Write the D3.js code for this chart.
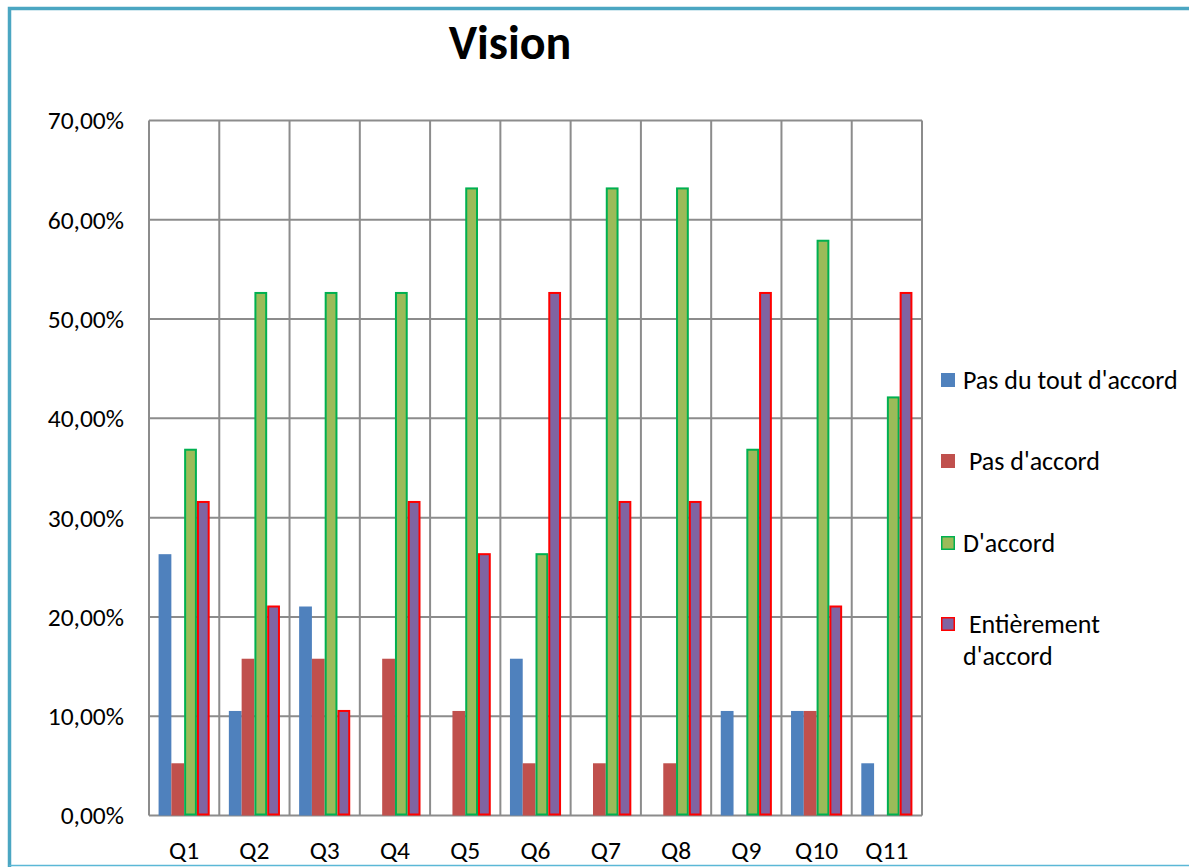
<!DOCTYPE html>
<html>
<head>
<meta charset="utf-8">
<script src="https://cdn.jsdelivr.net/npm/d3@7"></script>
<style>
  html, body { margin: 0; padding: 0; background: #fff; }
  svg { display: block; font-family: Carlito, Calibri, Lato, "Open Sans", sans-serif; }
</style>
</head>
<body>
<svg id="chart" width="1189" height="867"></svg>
<script>
// Survey answers per question (share of respondents)
const categories = ["Q1", "Q2", "Q3", "Q4", "Q5", "Q6", "Q7", "Q8", "Q9", "Q10", "Q11"];
const seriesNames = ["Pas du tout d'accord", " Pas d'accord", "D'accord", " Entièrement d'accord"];
const pasDuTout   = [26.32, 10.53, 21.05, 0, 0, 15.79, 0, 0, 10.53, 10.53, 5.26];
const pasDAccord  = [5.26, 15.79, 15.79, 15.79, 10.53, 5.26, 5.26, 5.26, 0, 10.53, 0];
const dAccord     = [36.84, 52.63, 52.63, 52.63, 63.16, 26.32, 63.16, 63.16, 36.84, 57.89, 42.11];
const entierement = [31.58, 21.05, 10.53, 31.58, 26.32, 52.63, 31.58, 31.58, 52.63, 21.05, 52.63];
const yTicks = [0, 10, 20, 30, 40, 50, 60, 70];

const seriesValues = [pasDuTout, pasDAccord, dAccord, entierement];
const fills   = ["#4F81BD", "#C0504D", "#9BBB59", "#8064A2"];
const strokes = [null, null, "#00B050", "#FF0000"];

const svg = d3.select("#chart");

// outer frame
svg.append("path")
  .attr("d", "M9.5,870 L9.5,8.5 L1195,8.5")
  .attr("fill", "none").attr("stroke", "#4BA6C2").attr("stroke-width", 3.5);
svg.append("line")
  .attr("x1", 9).attr("x2", 1189).attr("y1", 865.5).attr("y2", 865.5)
  .attr("stroke", "#5BB8D6").attr("stroke-width", 1.5);

const plot = { left: 149, right: 922, top: 120.5, bottom: 815.5 };

const x = d3.scaleBand().domain(categories).range([plot.left, plot.right]);
const y = d3.scaleLinear().domain([0, 70]).range([plot.bottom, plot.top]);

// gap width of 150% between groups: each bar is bandwidth / 5.5
const barW = x.bandwidth() / 5.5;
const barOffset = x.bandwidth() * 0.75 / 5.5;

const g = svg.append("g");

// horizontal gridlines
g.selectAll("line.hgrid").data(yTicks).join("line")
  .attr("class", "hgrid")
  .attr("x1", plot.left).attr("x2", plot.right)
  .attr("y1", d => y(d)).attr("y2", d => y(d))
  .attr("stroke", "#8C8C8C").attr("stroke-width", 2);

// vertical gridlines at category boundaries
const bounds = categories.map(c => x(c)).concat([plot.right]);
g.selectAll("line.vgrid").data(bounds).join("line")
  .attr("class", "vgrid")
  .attr("x1", d => d).attr("x2", d => d)
  .attr("y1", plot.top).attr("y2", plot.bottom)
  .attr("stroke", "#8C8C8C").attr("stroke-width", 2);

// bars
seriesValues.forEach((vals, si) => {
  const sw = strokes[si] ? 2 : 0;
  g.selectAll("rect.s" + si).data(vals.map((v, i) => ({ c: categories[i], v }))).join("rect")
    .attr("class", "s" + si)
    .filter(d => d.v > 0)
    .attr("x", d => x(d.c) + barOffset + si * barW + sw / 2)
    .attr("width", barW - sw)
    .attr("y", d => y(d.v))
    .attr("height", d => y(0) - y(d.v) - sw / 2)
    .attr("fill", fills[si])
    .attr("stroke", strokes[si] || "none")
    .attr("stroke-width", sw);
});

// y axis labels
const fmt = v => d3.format(".2f")(v).replace(".", ",") + "%";
svg.selectAll("text.ytick").data(yTicks).join("text")
  .attr("class", "ytick")
  .attr("x", 124).attr("y", d => y(d))
  .attr("dy", "0.35em")
  .attr("text-anchor", "end")
  .attr("font-size", 25.5)
  .attr("fill", "#000")
  .text(fmt);

// x axis labels
svg.selectAll("text.xtick").data(categories).join("text")
  .attr("class", "xtick")
  .attr("x", d => x(d) + x.bandwidth() / 2)
  .attr("y", 859)
  .attr("text-anchor", "middle")
  .attr("font-size", 25.5)
  .attr("fill", "#000")
  .text(d => d);

// title
svg.append("text")
  .attr("x", 510).attr("y", 59)
  .attr("text-anchor", "middle")
  .attr("font-size", 48).attr("font-weight", "bold")
  .attr("fill", "#000")
  .text("Vision");

// legend
const legendY = [380, 461, 543, 624];
const leg = svg.append("g");
seriesNames.forEach((name, i) => {
  const sw = strokes[i] ? 1.5 : 0;
  leg.append("rect")
    .attr("x", 941 + sw / 2).attr("y", legendY[i] - 7 + sw / 2)
    .attr("width", 14 - sw).attr("height", 14 - sw)
    .attr("fill", fills[i])
    .attr("stroke", strokes[i] || "none")
    .attr("stroke-width", sw);
  const t = leg.append("text")
    .attr("x", 963).attr("y", legendY[i])
    .attr("dy", "0.35em")
    .attr("font-size", 26)
    .attr("fill", "#000")
    .attr("xml:space", "preserve");
  if (i === 3) {
    t.append("tspan").attr("x", 963).text(" Entièrement");
    t.append("tspan").attr("x", 963).attr("dy", 32).text("d'accord");
  } else {
    t.text(name);
  }
});
</script>
</body>
</html>
